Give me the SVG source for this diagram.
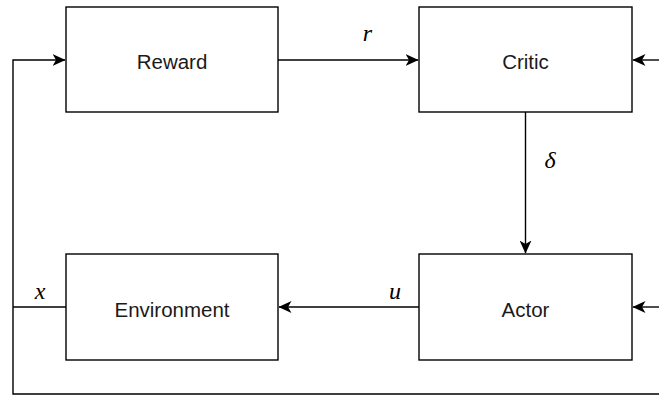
<svg xmlns="http://www.w3.org/2000/svg" width="659" height="396" viewBox="0 0 659 396">
  <style>
    .box { fill: #ffffff; stroke: #000000; stroke-width: 1.4; }
    .lbl { font-family: "Liberation Sans", Arial, sans-serif; font-size: 20.5px; fill: #1a1a1a; text-anchor: middle; }
    .var { font-family: "Liberation Serif", "Times New Roman", serif; font-style: italic; font-size: 24px; fill: #000000; text-anchor: middle; }
    .wire { fill: none; stroke: #000000; stroke-width: 1.4; }
  </style>
  <defs>
    <marker id="arrow" viewBox="0 0 13 12" refX="12.5" refY="6" markerWidth="13" markerHeight="12" markerUnits="userSpaceOnUse" orient="auto">
      <path d="M0,0 L13,6 L0,12 L3.5,6 Z" fill="#000000"/>
    </marker>
  </defs>
  <rect width="659" height="396" fill="#ffffff"/>

  <g id="connectors">
    <!-- state feedback loop: right edge -> bottom -> left -> Reward -->
    <path class="wire" d="M659,394 L13,394 L13,60 L65,60" marker-end="url(#arrow)"/>
    <!-- Environment output x joins the loop -->
    <path class="wire" d="M66,307 L13,307"/>
    <!-- Reward -> Critic (r) -->
    <path class="wire" d="M278,60 L418,60" marker-end="url(#arrow)"/>
    <!-- Critic -> Actor (delta) -->
    <path class="wire" d="M525.5,112 L525.5,253" marker-end="url(#arrow)"/>
    <!-- Actor -> Environment (u) -->
    <path class="wire" d="M419,307 L279,307" marker-end="url(#arrow)"/>
    <!-- state inputs from the right -->
    <path class="wire" d="M659,60 L633,60" marker-end="url(#arrow)"/>
    <path class="wire" d="M659,307 L633,307" marker-end="url(#arrow)"/>
    <text class="var" x="367.5" y="41">r</text>
    <text class="var" x="550" y="168">δ</text>
    <text class="var" x="395" y="299">u</text>
    <text class="var" x="40" y="299">x</text>
  </g>

  <g id="reward">
    <rect class="box" x="66" y="7" width="212" height="105"/>
    <text class="lbl" x="172" y="69">Reward</text>
  </g>
  <g id="critic">
    <rect class="box" x="419" y="7" width="213" height="105"/>
    <text class="lbl" x="525.5" y="69">Critic</text>
  </g>
  <g id="environment">
    <rect class="box" x="66" y="254" width="212" height="106"/>
    <text class="lbl" x="172" y="317">Environment</text>
  </g>
  <g id="actor">
    <rect class="box" x="419" y="254" width="213" height="106"/>
    <text class="lbl" x="525.5" y="317">Actor</text>
  </g>
</svg>
